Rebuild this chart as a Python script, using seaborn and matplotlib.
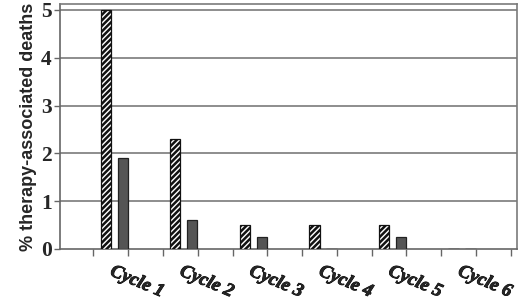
import matplotlib
matplotlib.use("Agg")
import matplotlib.pyplot as plt
from matplotlib.font_manager import FontProperties
import matplotlib.patheffects as pe
import seaborn as sns
import pandas as pd
import numpy as np

cycles = ["Cycle 1", "Cycle 2", "Cycle 3", "Cycle 4", "Cycle 5", "Cycle 6"]
series_a = [5.0, 2.3, 0.5, 0.5, 0.5, 0.0]   # hatched
series_b = [1.9, 0.6, 0.25, 0.0, 0.25, 0.0]  # dark gray
yticks = [0, 1, 2, 3, 4, 5]

df = pd.DataFrame({
    "cycle": cycles * 2,
    "value": series_a + series_b,
    "group": ["A"] * len(cycles) + ["B"] * len(cycles),
})

sns.set_style("white")
plt.rcParams["hatch.linewidth"] = 1.8
plt.rcParams["hatch.color"] = "black"

fig = plt.figure(figsize=(5.2, 3.04), dpi=100)
ax = fig.add_axes([60 / 520, 1 - 249 / 304, (517 - 60) / 520, (249 - 4) / 304])

sns.barplot(data=df, x="cycle", y="value", hue="group",
            palette={"A": "white", "B": "#555555"},
            width=0.49, gap=0.4, edgecolor="#222222", linewidth=0.9,
            legend=False, ax=ax, zorder=3)

n = len(cycles)
for i, p in enumerate(ax.patches[:n]):
    p.set_hatch("//////")
    p.set_edgecolor("#111111")

ax.set_xlim(-0.78, 5.79)
ax.set_ylim(0, 5.125)

for y in yticks[1:]:
    ax.axhline(y, color="#7a7a7a", lw=1.2, zorder=1)

for s in ["top", "right"]:
    ax.spines[s].set_color("#7a7a7a")
    ax.spines[s].set_linewidth(1.2)
for s in ["left", "bottom"]:
    ax.spines[s].set_color("#666666")
    ax.spines[s].set_linewidth(1.2)

fp_y = FontProperties(family="Liberation Serif", weight="bold", size=15.5)
fp_x = FontProperties(family="Liberation Serif", weight="bold", style="italic", size=13.5)
fp_lab = FontProperties(family="Liberation Sans", weight="bold", size=13)

ax.set_yticks(yticks)
ax.set_yticklabels([str(t) for t in yticks])
for lab in ax.get_yticklabels():
    lab.set_fontproperties(fp_y)
ax.tick_params(axis="y", length=4, width=1, color="#666666", pad=2, left=True)

ax.set_xticks(range(n))
ax.set_xticklabels(cycles)
ax.tick_params(axis="x", which="major", length=0, pad=10)
for lab in ax.get_xticklabels():
    lab.set_fontproperties(fp_x)
    lab.set_rotation(-23)
    lab.set_ha("left")
    lab.set_va("top")
    lab.set_rotation_mode("anchor")
    lab.set_path_effects([pe.withStroke(linewidth=0.6, foreground="black")])

ax.set_xticks(np.arange(-0.3, 5.8, 0.5), minor=True)
ax.tick_params(axis="x", which="minor", length=5, width=1, color="#666666",
               bottom=True, direction="out")

ax.set_xlabel("")
ax.set_ylabel("% therapy-associated deaths", fontproperties=fp_lab, labelpad=3)

fig.savefig("out.png", dpi=100)
